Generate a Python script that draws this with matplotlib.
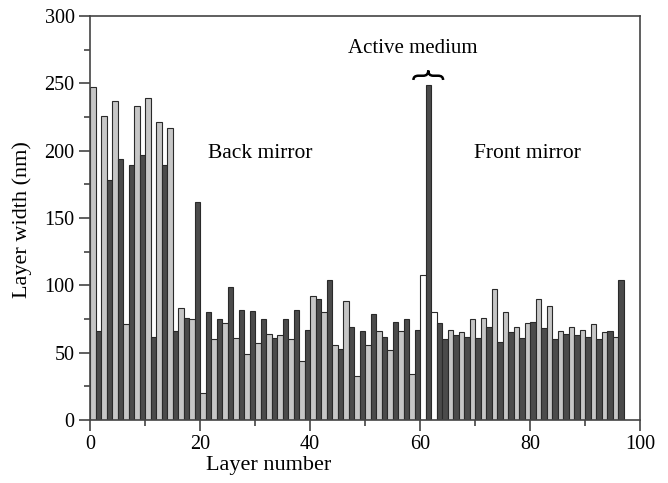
import numpy as np
import matplotlib
matplotlib.use("Agg")
import matplotlib.pyplot as plt
from matplotlib.path import Path
from matplotlib.patches import PathPatch
from matplotlib.ticker import MultipleLocator

plt.rcParams['font.family'] = ['Liberation Serif', 'DejaVu Serif']

# layer widths (nm), layer 1..97
layer_width = [
    247, 66, 226, 178, 237, 194, 71, 189, 233, 197,
    239, 62, 221, 189, 217, 66, 83, 76, 75, 162,
    20, 80, 60, 75, 72, 99, 61, 82, 49, 81,
    57, 75, 64, 61, 63, 75, 60, 82, 44, 67,
    92, 90, 80, 104, 56, 53, 88, 69, 33, 66,
    56, 79, 66, 62, 52, 73, 66, 75, 34, 67,
    108, 249, 80, 72, 60, 67, 63, 65, 62, 75,
    61, 76, 69, 97, 58, 80, 65, 69, 61, 72,
    73, 90, 68, 85, 60, 66, 64, 69, 63, 67,
    62, 71, 60, 65, 66, 62, 104,
]
# material of each layer: L = light, D = dark, W = white (active medium)
layer_kind = list(
    "LDLDLDLDLD" "LDLDLDLDLD" "LDLDLDLDLD" "LDLDLDLDLD"
    "LDLDLDLDLD" "LDLDLDLDLD" "WDWDDLDLDL" "DLDLDLDLDL"
    "DLDLDLDLDL" "DLDLDLD"
)
kind_color = {'L': '#c6c6c6', 'D': '#4b4b4b', 'W': '#ffffff'}

x_ticks = [0, 20, 40, 60, 80, 100]
y_ticks = [0, 50, 100, 150, 200, 250, 300]

fig = plt.figure(figsize=(6.68, 4.83), dpi=100)
ax = fig.add_axes([90 / 668, 63 / 483, 550 / 668, 404 / 483])

layers = np.arange(1, len(layer_width) + 1)
colors = [kind_color[k] for k in layer_kind]
ax.bar(layers - 0.5, layer_width, width=1.0, color=colors,
       edgecolor='#2a2a2a', linewidth=0.8)

ax.set_xlim(0, 100)
ax.set_ylim(0, 300)
ax.set_xticks(x_ticks)
ax.set_yticks(y_ticks)
ax.xaxis.set_minor_locator(MultipleLocator(10))
ax.yaxis.set_minor_locator(MultipleLocator(25))
ax.tick_params(which='major', direction='out', length=8, width=1.2,
               color='#444444', labelsize=14.5, pad=3)
ax.tick_params(which='minor', direction='out', length=4, width=1.2,
               color='#444444')
for s in ax.spines.values():
    s.set_color('#444444')
    s.set_linewidth(1.2)

ax.set_xlabel('Layer number', fontsize=16, labelpad=0)
ax.xaxis.set_label_coords(0.324, -0.088)
ax.set_ylabel('Layer width (nm)', fontsize=16)
ax.yaxis.set_label_coords(-0.105, 0.495)

# region labels
ax.text(31, 198, 'Back mirror', fontsize=15.5, ha='center', va='center')
ax.text(79.5, 198, 'Front mirror', fontsize=15.5, ha='center', va='center')
ax.text(58.7, 276, 'Active medium', fontsize=15, ha='center', va='center')

# curly brace over the active medium
x0, x1, yb, h = 58.8, 64.2, 252.5, 7.0
xc = (x0 + x1) / 2
ym = yb + h * 0.45
a = 0.9
verts = [(x0, yb), (x0, ym), (x0 + a, ym), (xc - a, ym), (xc, ym), (xc, yb + h),
         (xc, ym), (xc + a, ym), (x1 - a, ym), (x1, ym), (x1, yb)]
codes = [Path.MOVETO, Path.CURVE3, Path.CURVE3, Path.LINETO, Path.CURVE3, Path.CURVE3,
         Path.CURVE3, Path.CURVE3, Path.LINETO, Path.CURVE3, Path.CURVE3]
ax.add_patch(PathPatch(Path(verts, codes), fill=False, lw=1.8, color='black',
                       clip_on=False))

fig.savefig('out.png', dpi=100)
